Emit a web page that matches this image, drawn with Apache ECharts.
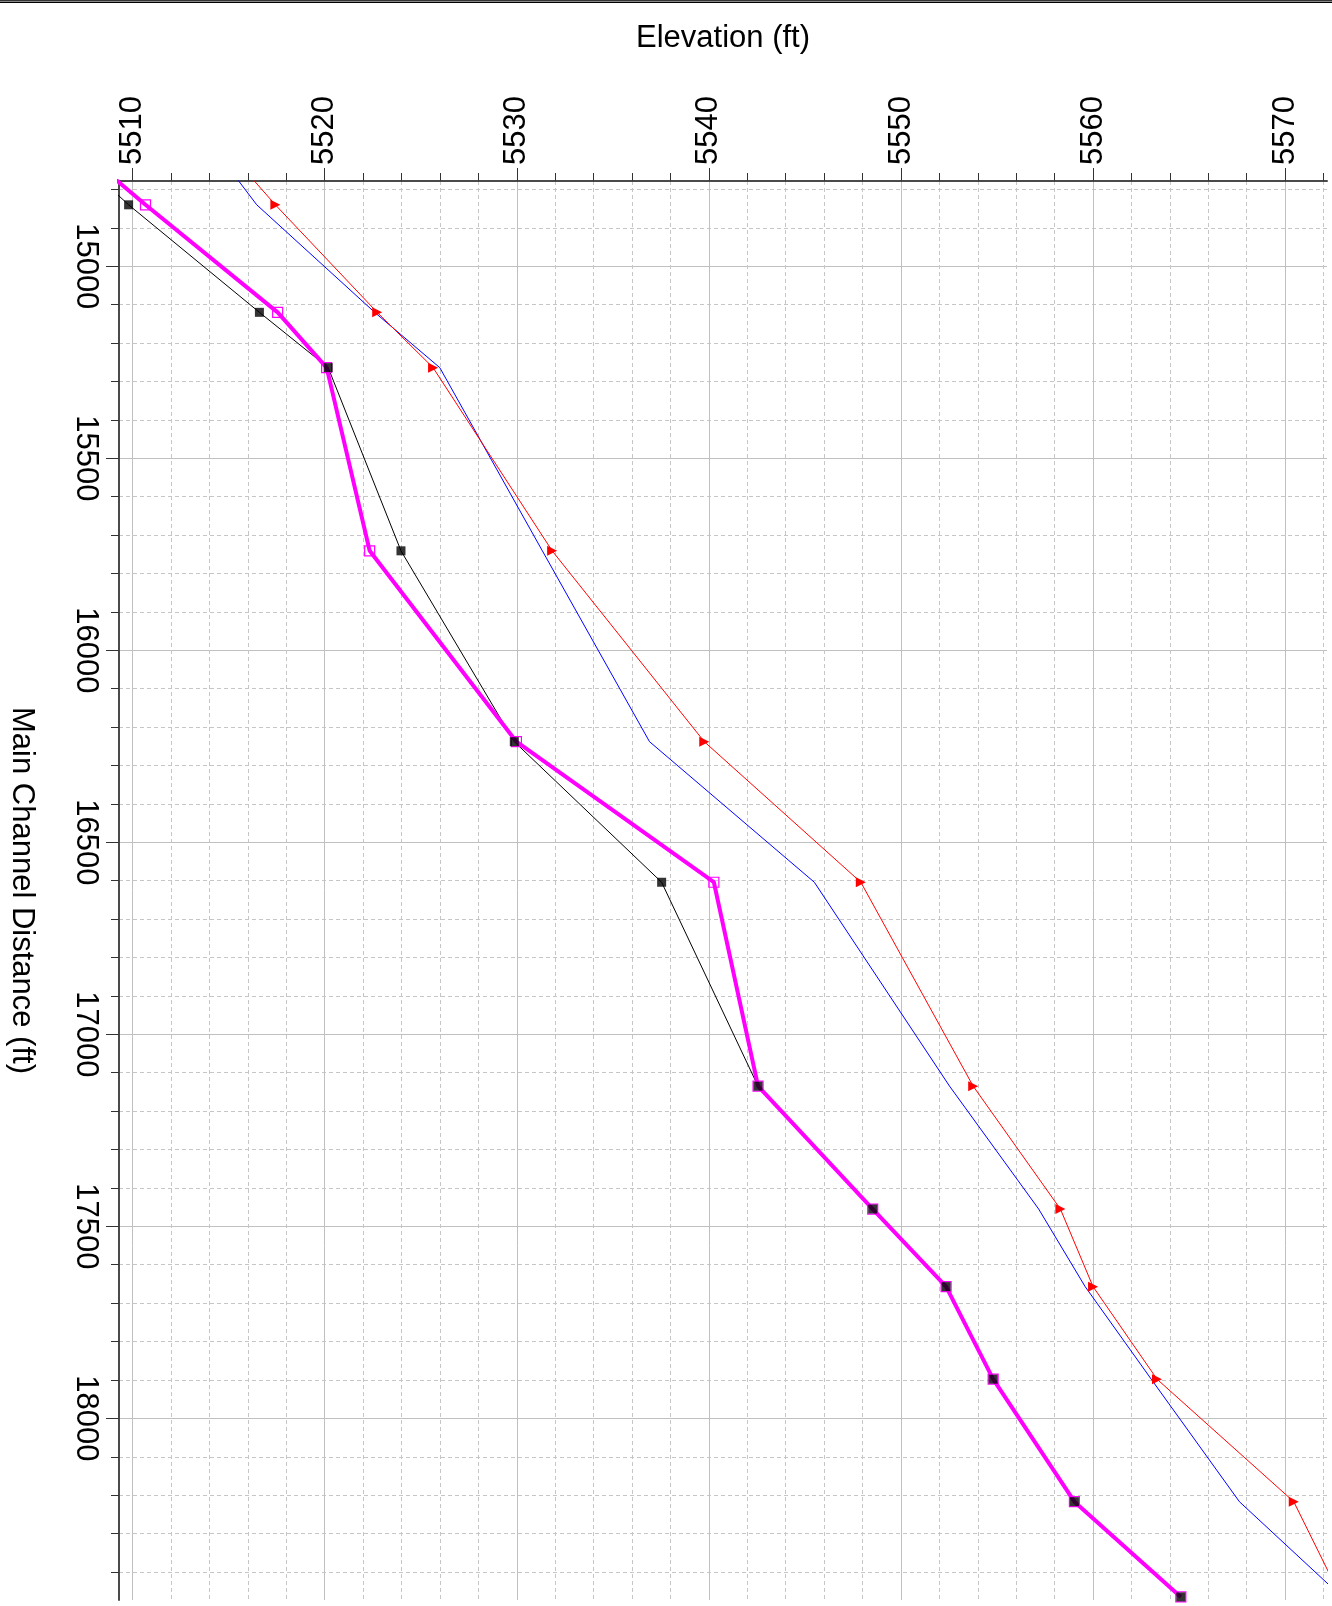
<!DOCTYPE html>
<html>
<head>
<meta charset="utf-8">
<title>Main Channel Profile</title>
<script src="https://cdn.jsdelivr.net/npm/echarts@6/dist/echarts.min.js"></script>
<style>
  html, body { margin: 0; padding: 0; background: #ffffff; }
  #chart { width: 1332px; height: 1606px; }
</style>
</head>
<body>
<div id="chart"></div>
<script>
// Main channel stations (ft); the first station lies just upstream of the plotted window
const stations = [14600, 14840, 15120, 15264, 15741, 16238, 16604, 17135, 17455, 17657, 17898, 18217, 18465];

// Elevations (ft) at each station
const channelInvert = [5504.6, 5509.79, 5516.60, 5520.18, 5523.97, 5529.87, 5537.54, 5542.56, 5548.53, 5552.35, 5554.80, 5559.03, 5564.57];
const thalweg       = [5505.0, 5510.67, 5517.55, 5520.10, 5522.34, 5529.98, 5540.26, 5542.56, 5548.53, 5552.35, 5554.80, 5559.03, 5564.57];
const energyGrade   = [5513.2, 5517.43, 5522.73, 5525.64, 5531.84, 5539.76, 5547.91, 5553.76, 5558.30, 5560.00, 5563.33, 5570.45, 5572.90];
const waterSurface  = [5512.83, 5516.46, 5522.60, 5525.99, 5531.33, 5536.91, 5545.49, 5552.53, 5557.17, 5559.59, 5563.03, 5567.62, 5572.96];

// Axis ticks
const elevTicks = [5510, 5520, 5530, 5540, 5550, 5560, 5570];
const elevMinorTicks = [5512, 5514, 5516, 5518, 5522, 5524, 5526, 5528, 5532, 5534, 5536, 5538,
  5542, 5544, 5546, 5548, 5552, 5554, 5556, 5558, 5562, 5564, 5566, 5568, 5572];
const distTicks = [15000, 15500, 16000, 16500, 17000, 17500, 18000];
const distMinorTicks = [14800, 14900, 15100, 15200, 15300, 15400, 15600, 15700, 15800, 15900,
  16100, 16200, 16300, 16400, 16600, 16700, 16800, 16900, 17100, 17200, 17300, 17400,
  17600, 17700, 17800, 17900, 18100, 18200, 18300, 18400];

const elevRange = [5509.29, 5572.18];
const distRange = [14778, 18473];

const FONT = 'Liberation Sans, Arial, sans-serif';

function pairs(values) {
  return stations.map((d, i) => [values[i], d]);
}

function majorAxis(range, ticks, extra) {
  return Object.assign({
    type: 'value',
    min: range[0],
    max: range[1],
    axisLine: { show: true, onZero: false, lineStyle: { color: '#4a4a4a', width: 2 } },
    axisTick: { show: true, inside: false, length: 13, customValues: ticks,
      lineStyle: { color: '#333333', width: 1 } },
    splitLine: { show: true, lineStyle: { color: '#c0c0c0', width: 1, type: 'solid' } },
    nameLocation: 'middle',
    nameTextStyle: { fontSize: 31, fontFamily: FONT, color: '#000000' }
  }, extra);
}

function minorAxis(range, ticks, extra) {
  return Object.assign({
    type: 'value',
    min: range[0],
    max: range[1],
    axisLine: { show: false, onZero: false },
    axisTick: { show: true, inside: false, length: 8, customValues: ticks,
      lineStyle: { color: '#333333', width: 1 } },
    axisLabel: { show: false },
    splitLine: { show: true, lineStyle: { color: '#c6c6c6', width: 1, type: [4, 3] } }
  }, extra);
}

const chart = echarts.init(document.getElementById('chart'), null, { renderer: 'canvas' });

chart.setOption({
  animation: false,
  backgroundColor: '#ffffff',
  grid: { left: 119, top: 181, right: 5, bottom: 6, containLabel: false, outerBoundsMode: 'none' },
  xAxis: [
    majorAxis(elevRange, elevTicks, {
      position: 'top',
      name: 'Elevation (ft)',
      nameGap: 127,
      axisLabel: { show: true, customValues: elevTicks, rotate: -90, margin: 16, fontSize: 31,
        fontFamily: FONT, color: '#000000', formatter: v => String(v) }
    }),
    minorAxis(elevRange, elevMinorTicks, { position: 'top' })
  ],
  yAxis: [
    majorAxis(distRange, distTicks, {
      position: 'left',
      inverse: true,
      name: 'Main Channel Distance (ft)',
      nameRotate: -90,
      nameGap: 82,
      axisLabel: { show: true, customValues: distTicks, rotate: -90, margin: 18, fontSize: 31,
        fontFamily: FONT, color: '#000000', formatter: v => String(v) }
    }),
    minorAxis(distRange, distMinorTicks, { position: 'left', inverse: true })
  ],
  graphic: [
    { type: 'rect', shape: { x: 0, y: 0, width: 1332, height: 1 }, style: { fill: '#333333' }, silent: true },
    { type: 'rect', shape: { x: 0, y: 1, width: 1332, height: 1 }, style: { fill: '#8a8a8a' }, silent: true },
    { type: 'rect', shape: { x: 0, y: 2, width: 1332, height: 1 }, style: { fill: '#000000' }, silent: true }
  ],
  series: [
    {
      name: 'Channel invert',
      type: 'line',
      data: pairs(channelInvert),
      showSymbol: false,
      symbol: 'none',
      clip: true,
      z: 2,
      lineStyle: { color: '#000000', width: 1 }
    },
    {
      name: 'Water surface',
      type: 'line',
      data: pairs(waterSurface),
      showSymbol: false,
      symbol: 'none',
      clip: true,
      z: 2,
      lineStyle: { color: '#0000ff', width: 1 }
    },
    {
      name: 'Energy grade',
      type: 'line',
      data: pairs(energyGrade),
      symbol: 'triangle',
      symbolSize: [10, 10],
      symbolRotate: -90,
      showSymbol: true,
      clip: true,
      z: 3,
      lineStyle: { color: '#ff0000', width: 1 },
      itemStyle: { color: '#ff0000' }
    },
    {
      name: 'Thalweg',
      type: 'line',
      data: pairs(thalweg),
      symbol: 'rect',
      symbolSize: 10,
      showSymbol: true,
      clip: true,
      z: 4,
      lineStyle: { color: '#ff00ff', width: 4 },
      itemStyle: { color: 'rgba(0,0,0,0)', borderColor: '#ff00ff', borderWidth: 1.2 }
    },
    {
      name: 'Channel invert points',
      type: 'scatter',
      data: pairs(channelInvert),
      symbol: 'rect',
      symbolSize: 9,
      clip: true,
      z: 5,
      itemStyle: { color: '#000000' }
    }
  ]
});
</script>
</body>
</html>
